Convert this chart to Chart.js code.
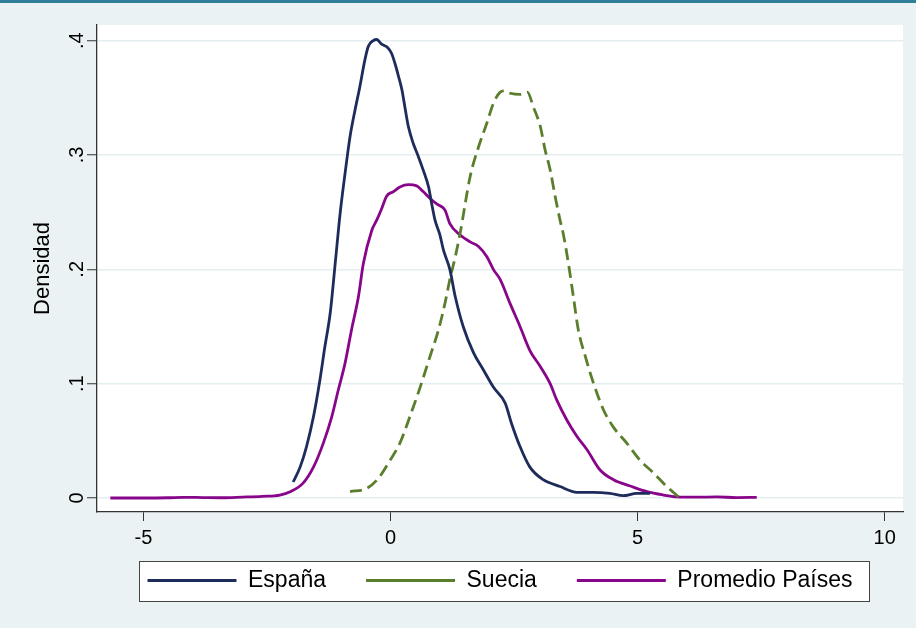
<!DOCTYPE html>
<html>
<head>
<meta charset="utf-8">
<script src="https://cdn.jsdelivr.net/npm/chart.js@4.4.1/dist/chart.umd.min.js"></script>
<style>
  html, body { margin: 0; padding: 0; background: #eaf2f3; }
  canvas { display: block; }
</style>
</head>
<body>
<canvas id="chart" width="916" height="628"></canvas>
<script>
// Kernel density estimates of the score distribution
const espanaX = [-1.97,-1.83,-1.70,-1.56,-1.43,-1.33,-1.22,-1.12,-1.02,-0.92,-0.82,-0.72,-0.62,-0.52,-0.45,-0.35,-0.28,-0.18,-0.06,0.02,0.09,0.16,0.23,0.29,0.36,0.46,0.56,0.66,0.77,0.83,0.90,1.00,1.07,1.20,1.31,1.47,1.68,1.88,2.08,2.32,2.45,2.62,2.82,3.09,3.43,3.77,4.11,4.44,4.71,4.98,5.25];
const espanaY = [0.014,0.027,0.045,0.071,0.103,0.132,0.162,0.205,0.249,0.284,0.316,0.339,0.360,0.383,0.395,0.400,0.401,0.397,0.394,0.389,0.380,0.369,0.357,0.342,0.325,0.310,0.299,0.287,0.272,0.258,0.243,0.230,0.217,0.200,0.176,0.150,0.127,0.112,0.097,0.083,0.065,0.045,0.027,0.016,0.010,0.005,0.005,0.004,0.002,0.004,0.004];

const sueciaX = [-0.82,-0.48,-0.25,-0.01,0.19,0.39,0.60,0.80,0.97,1.10,1.20,1.31,1.41,1.61,1.78,1.95,2.08,2.22,2.30,2.42,2.62,2.77,2.89,3.03,3.13,3.23,3.33,3.43,3.50,3.60,3.70,3.80,3.94,4.11,4.31,4.51,4.78,5.05,5.32,5.59,5.83];
const sueciaY = [0.0055,0.0085,0.017,0.033,0.048,0.071,0.097,0.124,0.147,0.170,0.191,0.211,0.232,0.281,0.307,0.328,0.345,0.355,0.356,0.354,0.353,0.355,0.342,0.325,0.304,0.287,0.264,0.243,0.230,0.205,0.176,0.147,0.124,0.100,0.077,0.062,0.048,0.033,0.022,0.010,0.001];

const promedioX = [-5.67,-5.0,-4.5,-4.2,-3.8,-3.4,-3.0,-2.6,-2.24,-2.03,-1.77,-1.56,-1.36,-1.19,-1.06,-0.92,-0.79,-0.65,-0.55,-0.38,-0.28,-0.18,-0.08,0.06,0.19,0.36,0.53,0.66,0.80,0.94,1.10,1.20,1.41,1.61,1.78,1.95,2.08,2.22,2.42,2.62,2.82,3.03,3.23,3.36,3.57,3.77,3.98,4.24,4.51,4.85,5.19,5.52,5.79,6.2,6.6,7.0,7.41];
const promedioY = [0,0,0.0002,0.0006,0.0004,0.0002,0.0008,0.0015,0.0026,0.0055,0.013,0.027,0.048,0.071,0.094,0.118,0.147,0.176,0.205,0.234,0.243,0.253,0.264,0.268,0.272,0.274,0.273,0.268,0.262,0.257,0.252,0.240,0.230,0.224,0.220,0.211,0.200,0.191,0.170,0.150,0.129,0.115,0.100,0.086,0.068,0.054,0.042,0.0245,0.016,0.0105,0.0055,0.0026,0.001,0.0007,0.0009,0.0004,0.0005];

const seriesNames = ['España', 'Suecia', 'Promedio Países'];
const xTicks = [-5, 0, 5, 10];
const xTickLabels = ['-5', '0', '5', '10'];
const yTicks = [0, 0.1, 0.2, 0.3, 0.4];
const yTickLabels = ['0', '.1', '.2', '.3', '.4'];
const yTitle = 'Densidad';

const toPoints = (xs, ys) => xs.map((x, i) => ({ x: x, y: ys[i] }));

Chart.defaults.font.family = "'Liberation Sans', Arial, sans-serif";
Chart.defaults.color = '#000';

const LEGEND_TOP = 529;

// Page background, white plot region and the framed legend box
const backdrop = {
  id: 'backdrop',
  afterLayout(chart) {
    // pull the legend up under the axis labels
    const lg = chart.legend;
    const h = lg.height;
    lg.top = LEGEND_TOP;
    lg.bottom = LEGEND_TOP + h;
  },
  beforeDraw(chart) {
    const ctx = chart.ctx;
    const a = chart.chartArea;
    ctx.save();
    ctx.fillStyle = '#eaf2f3';
    ctx.fillRect(0, 0, chart.width, chart.height);
    ctx.fillStyle = '#2f7f98';
    ctx.fillRect(0, 0, chart.width, 3);
    ctx.fillStyle = '#ffffff';
    ctx.fillRect(a.left, a.top, a.right - a.left, a.bottom - a.top);

    const boxes = chart.legend.legendHitBoxes;
    if (boxes && boxes.length) {
      const first = boxes[0];
      const last = boxes[boxes.length - 1];
      const cy = first.top + first.height / 2;
      const left = Math.round(first.left - 9) + 0.5;
      const right = Math.round(last.left + last.width + 17) + 0.5;
      const top = Math.round(cy - 20) + 0.5;
      const bottom = Math.round(cy + 20) + 0.5;
      ctx.fillStyle = '#ffffff';
      ctx.fillRect(left, top, right - left, bottom - top);
      ctx.strokeStyle = '#444';
      ctx.lineWidth = 1;
      ctx.strokeRect(left, top, right - left, bottom - top);
    }
    ctx.restore();
  }
};

new Chart(document.getElementById('chart'), {
  type: 'line',
  data: {
    datasets: [
      {
        label: seriesNames[0],
        data: toPoints(espanaX, espanaY),
        borderColor: '#1e2c5c',
        borderWidth: 2.8
      },
      {
        label: seriesNames[1],
        data: toPoints(sueciaX, sueciaY),
        borderColor: '#5b7e2c',
        borderWidth: 2.8,
        borderDash: [12, 6]
      },
      {
        label: seriesNames[2],
        data: toPoints(promedioX, promedioY),
        borderColor: '#87068a',
        borderWidth: 2.8
      }
    ]
  },
  options: {
    responsive: false,
    animation: false,
    events: [],
    elements: {
      point: { radius: 0 },
      line: { cubicInterpolationMode: 'monotone', fill: false, borderJoinStyle: 'round', borderCapStyle: 'butt' }
    },
    layout: { padding: { top: 25, right: 13, bottom: 0, left: 0 } },
    scales: {
      x: {
        type: 'linear',
        min: -5.94,
        max: 10.37,
        afterBuildTicks: (s) => { s.ticks = xTicks.map(v => ({ value: v })); },
        afterFit: (s) => { s.height = 43; },
        grid: { drawOnChartArea: false, drawTicks: true, tickLength: 9, tickColor: '#333', tickWidth: 1 },
        border: { display: true, color: '#333', width: 1.3 },
        ticks: {
          font: { size: 20 },
          color: '#000',
          padding: 5,
          maxRotation: 0,
          autoSkip: false,
          callback: (v, i) => xTickLabels[i]
        }
      },
      y: {
        type: 'linear',
        min: -0.01225,
        max: 0.4137,
        afterBuildTicks: (s) => { s.ticks = yTicks.map(v => ({ value: v })); },
        afterFit: (s) => { s.width = 97; },
        grid: { color: '#e4eef0', lineWidth: 1.5, drawTicks: true, tickLength: 10, tickColor: '#333', tickWidth: 1 },
        border: { display: true, color: '#333', width: 1.3 },
        ticks: {
          font: { size: 20 },
          color: '#000',
          minRotation: 90,
          maxRotation: 90,
          crossAlign: 'center',
          padding: 1,
          autoSkip: false,
          callback: (v, i) => yTickLabels[i]
        },
        title: {
          display: true,
          text: yTitle,
          font: { size: 22 },
          color: '#000',
          padding: { top: 30, bottom: 0 }
        }
      }
    },
    plugins: {
      tooltip: { enabled: false },
      legend: {
        position: 'bottom',
        fullSize: false,
        align: 'center',
        labels: {
          usePointStyle: true,
          pointStyle: 'line',
          pointStyleWidth: 89,
          padding: 40,
          color: '#000',
          font: { size: 23 }
        }
      }
    }
  },
  plugins: [backdrop]
});
</script>
</body>
</html>
